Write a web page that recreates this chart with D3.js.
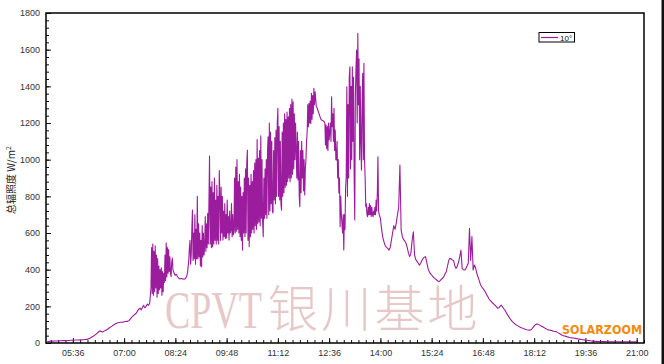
<!DOCTYPE html>
<html><head><meta charset="utf-8">
<script src="https://cdn.jsdelivr.net/npm/d3@7"></script>
<style>html,body{margin:0;padding:0;background:#fff;overflow:hidden}svg{display:block}</style>
</head><body>
<script>
// ---- data ----
const seriesName = "10°";

// morning: logged every 2 min from 04:54
const morningStart = "04:54", morningStep = 2;
const morningValues = [
  8,8,9,
  10,10,10,11,11,11,12,12,12,12,13,13,13,14,14,14,15,15,15,15,16,16,16,16,17,17,18,18,19,20,
  20,23,26,30,34,38,43,48,54,60,66,64,60,62,66,70,74,78,83,88,92,97,101,105,108,110,112,113,113,114,
  116,117,118,118,122,130,138,146,152,158,162,175,185,190,180,195,205,192,200,212,205,218
];

// midday: logged every 1 min from 07:44
const middayStart = "07:44", middayStep = 1;
const middayValues = [
  300,520,270,540,260,500,280,530,300,480,250,460,270,420,290,400,
  // 08:00
  300,410,260,390,280,380,330,480,340,545,
  360,520,380,510,390,470,380,362,440,463,
  400,390,380,372,370,375,372,365,360,356,
  352,350,350,352,352,350,350,349,348,349,
  350,355,360,370,385,420,450,520,560,430,
  480,620,725,450,600,460,700,430,620,460,
  // 09:00
  800,460,650,470,600,420,560,416,640,470,
  600,480,525,690,500,650,520,707,540,760,
  1020,540,850,520,880,525,820,540,900,560,
  780,540,860,560,800,540,940,798,560,850,
  600,800,562,720,580,760,570,700,573,780,
  600,690,562,720,600,616,760,580,700,590,
  // 10:00
  620,900,600,960,610,1000,620,880,600,920,
  580,850,560,800,507,820,600,900,580,950,
  600,980,1053,560,900,525,860,580,920,600,
  880,620,940,600,982,640,1000,620,1110,650,
  1009,660,1050,640,1130,680,1000,660,580,900,
  680,950,700,1000,680,1050,1125,700,1200,720,
  // 11:00
  1150,760,1100,720,709,1050,780,1120,760,1162,
  800,1200,1280,800,1180,780,1100,760,725,1150,
  800,1200,820,1250,850,1220,860,1260,880,1234,
  900,1280,880,1300,900,1330,920,1316,950,1250,
  1000,1200,1053,900,1150,889,1100,800,744,1050,
  820,1100,900,1050,830,1000,807,950,998,1100,
  // 12:00
  1150,1300,1180,1307,1200,1320,1198,1362,1220,1350,
  1250,1389,1300,1370,1330,1289,1285,1275,1265,1255,
  1245,1235,1225,1218,1216,1214,1212,1210,1207,1200,
  1080,1190,1060,1180,1050,1200,1107,1150,1200,1100,
  1343,1180,1250,1100,1280,1050,1162,1000,998,1100,
  900,1000,818,900,634,800,700,650,600,700,
  // 13:00
  507,700,620,850,907,1398,800,1300,900,1450,
  1507,950,1400,1000,1507,1100,1450,900,671,1350,
  1500,1598,1200,1689,1300,1550,1000,1400,1100,944,
  1300,1471,1000,1525,998,900,744,760,700,689,
  740,700,760,700,750,690,740,700,689,720,
  700,740,700,780,720,820,1016,720,700,690
];

// afternoon: logged every 2 min from 14:00
const afternoonStart = "14:00", afternoonStep = 2;
const afternoonValues = [
  680,620,575,550,530,522,516,507,520,560,600,640,620,654,700,740,971,616,580,565,555,544,520,490,471,490,560,607,480,455,
  445,435,425,435,450,462,468,471,440,407,390,378,371,362,355,350,345,338,335,340,348,353,362,378,389,420,450,462,458,453,
  450,420,407,420,440,470,507,407,400,398,405,420,435,625,450,580,398,425,410,380,360,340,318,307,298,289,278,265,253,240,
  232,225,218,212,205,198,190,192,200,207,198,188,180,168,156,145,135,126,118,111,105,100,96,92,88,85,82,80,77,74,
  72,71,70,71,76,84,93,100,104,103,99,95,92,89,85,80,76,73,71,70,68,66,64,63,62,58,54,50,46,42,
  40,38,36,34,32,30,29,28,27,26,25,24,22,21,20,19,18,17,16,15,14,13,12,11,10,10,9,9,8,8,
  8,8,8,8,8,7,7,7,7,7,7,7,7,7,7,7,7,7,7,7,7,7,7,7,7,6,6,6,6,6,
  6
];

const xTickLabels = ["05:36","07:00","08:24","09:48","11:12","12:36","14:00","15:24","16:48","18:12","19:36","21:00"];
const xDomainLabels = ["04:52","21:12"];
const yTickValues = [0,200,400,600,800,1000,1200,1400,1600,1800];
const yAxisTitle = "总辐照度 W/m";
const watermarkLatin = "CPVT";
const watermarkCJK = "银川基地";
const brandText = "SOLARZOOM";

// ---- helpers ----
const toMin = s => { const [h,m] = s.split(":").map(Number); return h*60+m; };
const fmt = m => String(Math.floor(m/60)).padStart(2,"0")+":"+String(m%60).padStart(2,"0");
const segments = [
  [morningStart, morningStep, morningValues],
  [middayStart, middayStep, middayValues],
  [afternoonStart, afternoonStep, afternoonValues]
];
const points = [];
segments.forEach(([s, step, vals]) => {
  const t0 = toMin(s);
  vals.forEach((v,i) => points.push({t: t0 + i*step, v}));
});

const W = 664, H = 364;
const L = 46, R = 644, T = 13, B = 343;
const lineColor = "#9c1c9e";

const svg = d3.select("body").append("svg").attr("width",W).attr("height",H);
svg.append("rect").attr("width",W).attr("height",H).attr("fill","#fff");

const x = d3.scaleLinear().domain(xDomainLabels.map(toMin)).range([L,R]);
const y = d3.scaleLinear().domain([0,1800]).range([B,T]);

// watermark
svg.append("text").attr("transform","translate(165,328) scale(0.73,1)")
  .attr("font-family","'Liberation Serif','DejaVu Serif',serif").attr("font-size",52)
  .attr("fill","#e7c8c8").text(watermarkLatin);
svg.append("text").attr("x",268).attr("y",327)
  .attr("font-family","'Noto Sans CJK SC',sans-serif").attr("font-weight",300).attr("font-size",50)
  .attr("letter-spacing",3.2)
  .attr("fill","#e7c8c8").text(watermarkCJK);

// axes ticks (inside)
const xMajor = xTickLabels.map(toMin);
const xMinor = d3.range(Math.ceil(toMin(xDomainLabels[0])/12)*12, toMin(xDomainLabels[1])+1, 12);
const yMinor = d3.range(0,1801,40);
const axFont = "'Liberation Sans',Arial,sans-serif";

const gx = svg.append("g").attr("transform",`translate(0,${B})`)
  .call(d3.axisBottom(x).tickValues(xMinor).tickSize(-3).tickFormat(""));
const gx2 = svg.append("g").attr("transform",`translate(0,${B})`)
  .call(d3.axisBottom(x).tickValues(xMajor).tickSize(-5).tickPadding(7).tickFormat(fmt));
const gy = svg.append("g").attr("transform",`translate(${L},0)`)
  .call(d3.axisLeft(y).tickValues(yMinor).tickSize(-3).tickFormat(""));
const gy2 = svg.append("g").attr("transform",`translate(${L},0)`)
  .call(d3.axisLeft(y).tickValues(yTickValues).tickSize(-5).tickPadding(6).tickFormat(d3.format("d")));
[gx,gx2,gy,gy2].forEach(g=>{
  g.select(".domain").remove();
  g.selectAll("line").attr("stroke","#111").attr("stroke-width",1);
  g.selectAll("text").attr("font-family",axFont).attr("font-size",9).attr("fill","#333");
});

// series line
svg.append("path").datum(points)
  .attr("fill","none").attr("stroke",lineColor).attr("stroke-width",1.1)
  .attr("stroke-linejoin","round")
  .attr("d", d3.line().x(d=>x(d.t)).y(d=>y(d.v)));

// frame
svg.append("rect").attr("x",L).attr("y",T).attr("width",R-L).attr("height",B-T)
  .attr("fill","none").attr("stroke","#000").attr("stroke-width",1.5);

// y title
const yt = svg.append("text").attr("transform",`translate(15,180) rotate(-90)`)
  .attr("text-anchor","middle").attr("font-family","'Noto Sans CJK SC',sans-serif")
  .attr("font-size",10).attr("fill","#222");
yt.append("tspan").text(yAxisTitle);
yt.append("tspan").attr("font-size",7).attr("dy",-4).text("2");

// legend
const lg = svg.append("g");
lg.append("rect").attr("x",539).attr("y",32.5).attr("width",35.5).attr("height",9.5)
  .attr("fill","#fff").attr("stroke","#000").attr("stroke-width",1);
lg.append("line").attr("x1",541).attr("x2",558).attr("y1",37.5).attr("y2",37.5)
  .attr("stroke",lineColor).attr("stroke-width",1.2);
lg.append("text").attr("x",560).attr("y",40.8).attr("font-family",axFont).attr("font-size",8)
  .attr("fill","#111").text(seriesName);

// brand
svg.append("text").attr("x",562).attr("y",334)
  .attr("font-family","'DejaVu Sans',sans-serif").attr("font-weight","bold").attr("font-size",13)
  .attr("textLength",80).attr("lengthAdjust","spacingAndGlyphs")
  .attr("fill","#f28a10").text(brandText);

// right edge dark border of picture
svg.append("rect").attr("x",661.5).attr("y",0).attr("width",2.5).attr("height",H).attr("fill","#111");
</script>
</body></html>
